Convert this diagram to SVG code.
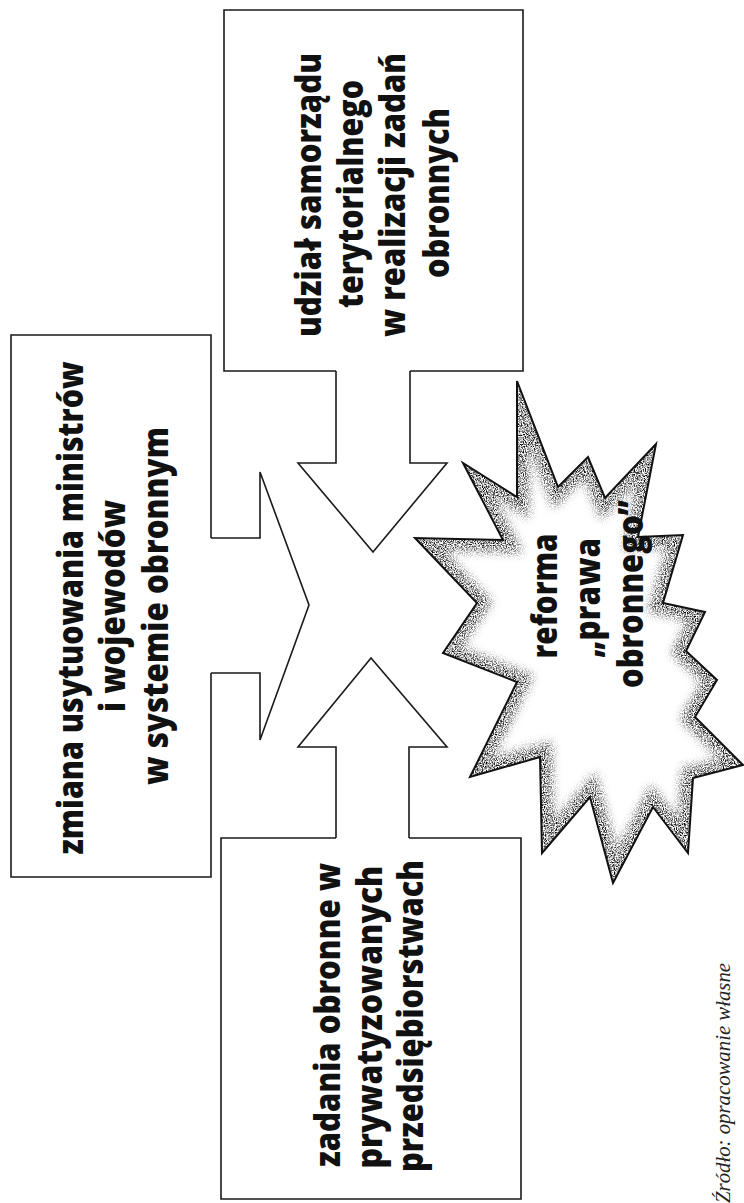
<svg xmlns="http://www.w3.org/2000/svg" width="744" height="1203" viewBox="0 0 744 1203">
<defs>
<style>
.box{fill:none;stroke:#1a1a1a;stroke-width:1.6;stroke-linejoin:miter}
.arr{fill:#fff;stroke:#1a1a1a;stroke-width:1.6;stroke-linejoin:miter}
.lbl{font-family:"Open Sans","DejaVu Sans",sans-serif;font-weight:800;font-size:36px;fill:#111;text-anchor:middle}
.src{font-family:"Liberation Serif","Times New Roman",serif;font-style:italic;font-size:20px;fill:#222;text-anchor:end}
.star{fill:none;stroke:#111;stroke-width:2;stroke-linejoin:miter}
</style>
<filter id="grain" x="-20%" y="-20%" width="140%" height="140%">
<feGaussianBlur in="SourceGraphic" stdDeviation="5" result="b"/>
<feTurbulence type="fractalNoise" baseFrequency="0.9" numOctaves="2" seed="4" result="n"/>
<feColorMatrix in="n" type="matrix" values="0 0 0 0 0  0 0 0 0 0  0 0 0 0 0  2.8 0 0 0 -1.05" result="m"/>
<feComposite in="b" in2="m" operator="in"/>
</filter>
<clipPath id="starClip">
<polygon id="starShape" points="517,381 558,487 588,457 605,498 656,444 638,537 683,535 663,603 705,612 686,651 717,680 695,717 743,765 693,778 688,853 653,807 613,883 590,797 542,853 540,757 470,777 517,682 443,653 477,603 415,538 503,540 463,463 517,497"/>
</clipPath>
</defs>
<rect width="744" height="1203" fill="#fff"/>

<g id="connectors">
<path class="arr" d="M336,371 V463 H298 L373,552 L447,463 H410 V371"/>
<path class="arr" d="M211,538 H260 V472 L309,605 L260,740 V673 H211"/>
<path class="arr" d="M336,838 V747 H298 L371,658 L447,747 H409 V838"/>
</g>

<g id="node-udzial">
<path class="box" d="M336,371 H224 V10 H523 V371 H410"/>
<text class="lbl" transform="translate(321,195) rotate(-90)" textLength="284" lengthAdjust="spacingAndGlyphs">udział samorządu</text>
<text class="lbl" transform="translate(363,194) rotate(-90)" textLength="228" lengthAdjust="spacingAndGlyphs">terytorialnego</text>
<text class="lbl" transform="translate(405,195) rotate(-90)" textLength="284" lengthAdjust="spacingAndGlyphs">w realizacji zadań</text>
<text class="lbl" transform="translate(449,193) rotate(-90)" textLength="170" lengthAdjust="spacingAndGlyphs">obronnych</text>
</g>

<g id="node-zmiana">
<path class="box" d="M211,538 V335 H11 V877 H211 V673"/>
<text class="lbl" transform="translate(83,608) rotate(-90)" textLength="493" lengthAdjust="spacingAndGlyphs">zmiana usytuowania ministrów</text>
<text class="lbl" transform="translate(125,606) rotate(-90)" textLength="212" lengthAdjust="spacingAndGlyphs">i wojewodów</text>
<text class="lbl" transform="translate(168,606) rotate(-90)" textLength="358" lengthAdjust="spacingAndGlyphs">w systemie obronnym</text>
</g>

<g id="node-zadania">
<path class="box" d="M336,838 H221 V1199 H521 V838 H409"/>
<text class="lbl" transform="translate(340,1015) rotate(-90)" textLength="304" lengthAdjust="spacingAndGlyphs">zadania obronne w</text>
<text class="lbl" transform="translate(382,1017) rotate(-90)" textLength="303" lengthAdjust="spacingAndGlyphs">prywatyzowanych</text>
<text class="lbl" transform="translate(423,1016) rotate(-90)" textLength="312" lengthAdjust="spacingAndGlyphs">przedsiębiorstwach</text>
</g>

<g id="node-reforma">
<g clip-path="url(#starClip)">
<use href="#starShape" fill="#fff"/>
<use href="#starShape" fill="none" stroke="#000" stroke-width="24" filter="url(#grain)"/>
</g>
<use href="#starShape" class="star"/>
<text class="lbl" transform="translate(557,596) rotate(-90)" textLength="125" lengthAdjust="spacingAndGlyphs">reforma</text>
<text class="lbl" transform="translate(600,598) rotate(-90)" textLength="120" lengthAdjust="spacingAndGlyphs">„prawa</text>
<text class="lbl" transform="translate(643,594) rotate(-90)" textLength="188" lengthAdjust="spacingAndGlyphs">obronnego”</text>
</g>

<g id="source">
<text class="src" transform="translate(730,963) rotate(-90)" textLength="240" lengthAdjust="spacingAndGlyphs">Źródło: opracowanie własne</text>
</g>
</svg>
